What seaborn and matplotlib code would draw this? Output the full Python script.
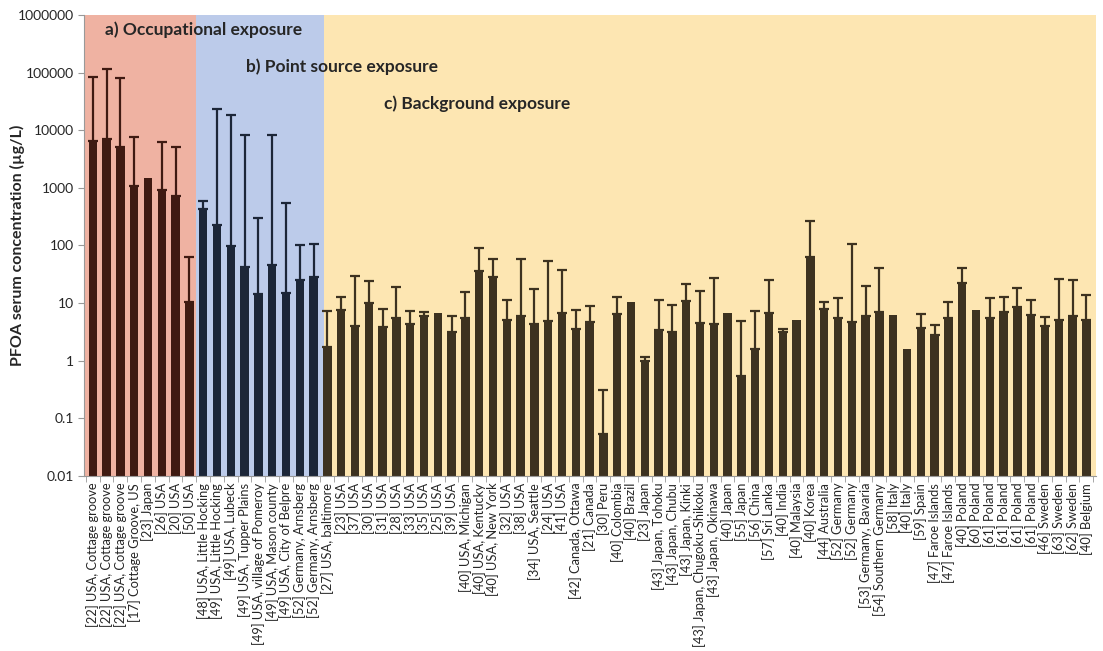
# PFOA serum concentrations by study - log bar chart
import numpy as np
import pandas as pd
import matplotlib
matplotlib.use("Agg")
import matplotlib.pyplot as plt
import seaborn as sns

# ---------------------------------------------------
# Data
# ---------------------------------------------------

occupational_labels = [
    "[22] USA, Cottage groove", "[22] USA, Cottage groove", "[22] USA, Cottage groove",
    "[17] Cottage Groove, US", "[23] Japan", "[26] USA", "[20] USA", "[50] USA",
]
occupational_values = [6400, 7000, 5100, 1090, 1470, 930, 710, 10.4]
occupational_upper = [83000, 116000, 80000, 7600, np.nan, 6300, 5200, 63]

point_labels = [
    "[48] USA, Little Hocking", "[49] USA, Little Hocking", "[49] USA, Lubeck",
    "[49] USA, Tupper Plains", "[49] USA, village of Pomeroy", "[49] USA, Mason county",
    "[49] USA, City of Belpre", "[52] Germany, Arnsberg", "[52] Germany, Arnsberg",
]
point_values = [435, 230, 96, 42, 14.5, 45, 15, 25.5, 28.5]
point_upper = [590, 23000, 18000, 8400, 300, 8100, 545, 102, 105]

background_labels = [
    "[27] USA, baltimore", "[23] USA", "[37] USA", "[30] USA", "[31] USA", "[28] USA",
    "[33] USA", "[35] USA", "[25] USA", "[39] USA", "[40] USA, Michigan",
    "[40] USA, Kentucky", "[40] USA, New York", "[32] USA", "[38] USA",
    "[34] USA, Seattle", "[24] USA", "[41] USA", "[42] Canada, Ottawa", "[21] Canada",
    "[30] Peru", "[40] Colombia", "[40] Brazil", "[23] Japan", "[43] Japan, Tohoku",
    "[43] Japan, Chubu", "[43] Japan, Kinki", "[43] Japan, Chugoku-Shikoku",
    "[43] Japan, Okinawa", "[40] Japan", "[55] Japan", "[56] China", "[57] Sri Lanka",
    "[40] India", "[40] Malaysia", "[40] Korea", "[44] Australia", "[52] Germany",
    "[52] Germany", "[53] Germany, Bavaria", "[54] Southern Germany", "[58] Italy",
    "[40] Italy", "[59] Spain", "[47] Faroe Islands", "[47] Faroe Islands",
    "[40] Poland", "[60] Poland", "[61] Poland", "[61] Poland", "[61] Poland",
    "[61] Poland", "[46] Sweden", "[63] Sweden", "[62] Sweden", "[40] Belgium",
]
background_values = [
    1.7, 7.5, 4.05, 10, 3.9, 5.4, 4.3, 6.0, 6.7, 3.1, 5.4,
    36.5, 28.7, 5.1, 5.9, 4.4, 4.8, 6.8, 3.6, 4.6,
    0.054, 6.5, 10.4, 0.98, 3.45, 3.1, 10.7, 4.5,
    4.3, 6.7, 0.55, 1.57, 6.7, 3.2, 5.1, 63, 8.0, 5.4,
    4.7, 6.0, 7.0, 6.2, 1.57, 3.7, 2.75, 5.4,
    22.3, 7.7, 5.4, 7.0, 8.7, 6.2, 3.95, 5.0, 6.0, 5.1,
]
background_upper = [
    7.4, 12.6, 29, 24, 7.9, 18.7, 7.4, 7.0, np.nan, 6.0, 15.4,
    90, 58, 11.1, 58, 17.3, 54, 37, 7.5, 9.0,
    0.31, 12.6, np.nan, 1.17, 11.5, 9.4, 21.7, 16.2,
    27, np.nan, 4.8, 7.4, 24.7, 3.6, np.nan, 262, 10.3, 12,
    105, 20, 41, np.nan, np.nan, 6.5, 4.2, 10.3,
    41, np.nan, 12, 12.8, 18.5, 11.1, 5.65, 25.7, 25, 13.6,
]

groups = ["Occupational", "Point source", "Background"]
bar_colors = ["#3f1a12", "#1c2638", "#3d3220"]
span_colors = ["#efb2a2", "#bccbea", "#fde6b2"]

df = pd.DataFrame({
    "label": occupational_labels + point_labels + background_labels,
    "value": occupational_values + point_values + background_values,
    "upper": occupational_upper + point_upper + background_upper,
    "group": ([groups[0]] * len(occupational_labels) + [groups[1]] * len(point_labels)
              + [groups[2]] * len(background_labels)),
})
df["study"] = [f"{i:02d}" for i in range(len(df))]

# ---------------------------------------------------
# Plot
# ---------------------------------------------------

sns.set_style("ticks")
plt.rcParams["font.family"] = ["Lato", "DejaVu Sans"]

fig, ax = plt.subplots(figsize=(11.03, 6.51), dpi=100)
fig.subplots_adjust(left=0.076, right=0.9937, top=0.977, bottom=0.269)

# shaded exposure regions
n1 = len(occupational_labels)
n2 = n1 + len(point_labels)
ax.axvspan(-0.7, n1 - 0.5, color=span_colors[0], zorder=0, lw=0)
ax.axvspan(n1 - 0.5, n2 - 0.25, color=span_colors[1], zorder=0, lw=0)
ax.axvspan(n2 - 0.25, len(df), color=span_colors[2], zorder=0, lw=0)

sns.barplot(data=df, x="study", y="value", hue="group", palette=bar_colors,
            hue_order=groups, dodge=False, width=0.6, saturation=1, linewidth=0,
            legend=False, ax=ax, zorder=2)
ax.set_yscale("log")

# upper error bars
for g, c in zip(groups, bar_colors):
    sub = df[(df["group"] == g) & df["upper"].notna()]
    xpos = sub.index.to_numpy()
    ax.errorbar(xpos, sub["value"], yerr=[np.zeros(len(sub)), sub["upper"] - sub["value"]],
                fmt="none", ecolor=c, elinewidth=1.6, capsize=3.5, capthick=1.6, zorder=3)

ax.set_ylim(0.01, 1e6)
ax.set_xlim(-0.65, len(df) - 0.3)
ticks = [0.01, 0.1, 1, 10, 100, 1000, 10000, 100000, 1000000]
ax.set_yticks(ticks)
ax.set_yticklabels(["0.01", "0.1", "1", "10", "100", "1000", "10000", "100000", "1000000"],
                   fontsize=10)
ax.yaxis.set_minor_locator(matplotlib.ticker.NullLocator())

ax.set_xticks(range(len(df)))
ax.set_xticklabels(df["label"], rotation=90, fontsize=9.3)
ax.tick_params(axis="x", length=0, pad=5)
ax.set_xticks(np.arange(-0.5, len(df), 1), minor=True)
ax.tick_params(axis="x", which="minor", length=4, color="#999999")
ax.tick_params(axis="y", length=4, color="#999999", pad=3)

ax.set_xlabel("")
ax.set_ylabel("PFOA serum concentration (µg/L)", fontsize=11.5, fontweight="bold",
              labelpad=6)
ax.yaxis.set_label_coords(-0.058, 0.5)

for side in ["top", "right"]:
    ax.spines[side].set_visible(False)
for side in ["left", "bottom"]:
    ax.spines[side].set_color("#999999")

# region titles
ax.text(0.021, 0.967, "a) Occupational exposure", transform=ax.transAxes,
        fontsize=12.5, fontweight="bold", va="center")
ax.text(0.160, 0.887, "b) Point source exposure", transform=ax.transAxes,
        fontsize=12.5, fontweight="bold", va="center")
ax.text(0.297, 0.807, "c) Background exposure", transform=ax.transAxes,
        fontsize=12.5, fontweight="bold", va="center")

plt.savefig("out.png", dpi=100)
